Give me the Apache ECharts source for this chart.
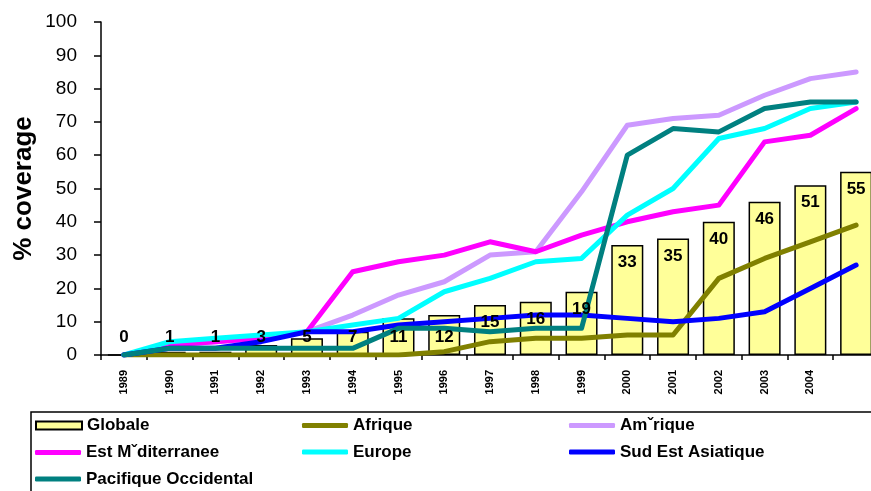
<!DOCTYPE html>
<html>
<head>
<meta charset="utf-8">
<script src="https://cdn.jsdelivr.net/npm/echarts@6/dist/echarts.min.js"></script>
<style>
  html, body { margin: 0; padding: 0; background: #fff; }
  #chart { width: 871px; height: 491px; }
</style>
</head>
<body>
<div id="chart"></div>
<script>
// données
var years = ['1989', '1990', '1991', '1992', '1993', '1994', '1995', '1996', '1997',
  '1998', '1999', '2000', '2001', '2002', '2003', '2004', ''];
var globale = [0, 1, 1, 3, 5, 7, 11, 12, 15, 16, 19, 33, 35, 40, 46, 51, 55];
var afrique = [0, 0, 0, 0, 0, 0, 0, 1, 4, 5, 5, 6, 6, 23, 29, 34, 39];
var amerique = [0, 3, 4, 5, 7, 12, 18, 22, 30, 31, 49, 69, 71, 72, 78, 83, 85];
var estMed = [0, 3, 4, 5, 7, 25, 28, 30, 34, 31, 36, 40, 43, 45, 64, 66, 74];
var europe = [0, 4, 5, 6, 7, 9, 11, 19, 23, 28, 29, 42, 50, 65, 68, 74, 76];
var sudEst = [0, 2, 2, 4, 7, 7, 9, 10, 11, 12, 12, 11, 10, 11, 13, 20, 27];
var pacifique = [0, 2, 2, 2, 2, 2, 8, 8, 7, 8, 8, 60, 68, 67, 74, 76, 76];
var yTicks = [0, 10, 20, 30, 40, 50, 60, 70, 80, 90, 100];

var myChart = echarts.init(document.getElementById('chart'));

function lineSerie(name, data, color) {
  return {
    name: name,
    type: 'line',
    data: data,
    symbol: 'none',
    color: color,
    z: 3,
    lineStyle: { width: 5, color: color, cap: 'round', join: 'round' }
  };
}

var font = 'Liberation Sans, Arial, sans-serif';
var legendText = { fontFamily: font, fontWeight: 'bold', fontSize: 17, color: '#000' };

function legendCol(left, top, names, icon, h) {
  return {
    left: left, top: top, orient: 'vertical', padding: 0,
    itemWidth: 46, itemHeight: h, itemGap: 9.5,
    textStyle: legendText,
    data: names.map(function (n) { return { name: n, icon: icon }; })
  };
}

// valeurs des barres, étiquettes au-dessus des courbes
function barData() {
  return globale.map(function (v) {
    return {
      value: v,
      label: v < 13 ? { position: 'insideBottom', distance: 9 } : { position: 'insideTop', distance: 9 }
    };
  });
}

var option = {
  animation: false,
  grid: { left: 101, right: -8, top: 22, bottom: 136, outerBoundsMode: 'none', containLabel: false },
  graphic: [{
    type: 'rect',
    shape: { x: 31, y: 412, width: 900, height: 100 },
    style: { fill: 'none', stroke: '#000', lineWidth: 1.5 }
  }],
  legend: [
    legendCol(35, 417, ['Globale'], 'rect', 8),
    legendCol(35, 444, ['Est Mˇditerranee', 'Pacifique Occidental'], 'roundRect', 5),
    legendCol(302, 417, ['Afrique', 'Europe'], 'roundRect', 5),
    legendCol(569, 417, ['Amˇrique', 'Sud Est Asiatique'], 'roundRect', 5)
  ],
  xAxis: {
    type: 'category',
    data: years,
    boundaryGap: true,
    axisLine: { lineStyle: { color: '#000', width: 1.5 } },
    axisTick: { show: true, interval: 0, length: 5, lineStyle: { color: '#000', width: 1.5 } },
    axisLabel: {
      interval: 0, rotate: 90, margin: 15,
      fontFamily: font, fontWeight: 'bold', fontSize: 11, color: '#000'
    }
  },
  yAxis: {
    type: 'value',
    min: yTicks[0],
    max: yTicks[yTicks.length - 1],
    interval: 10,
    name: '% coverage',
    nameLocation: 'middle',
    nameGap: 64,
    nameRotate: 90,
    nameMoveOverlap: false,
    nameTextStyle: { fontFamily: font, fontWeight: 'bold', fontSize: 26, color: '#000' },
    axisLine: { show: true, lineStyle: { color: '#000', width: 1.5 } },
    axisTick: { show: true, length: 7, lineStyle: { color: '#000', width: 1.5 } },
    splitLine: { show: false },
    axisLabel: {
      margin: 24,
      fontFamily: 'Liberation Sans Narrow, Arial Narrow, Liberation Sans, sans-serif', fontSize: 19, color: '#000'
    }
  },
  series: [
    {
      name: 'Globale',
      type: 'bar',
      z: 2,
      barCategoryGap: '30%',
      data: globale,
      itemStyle: { color: '#ffff99', borderColor: '#000', borderWidth: 1.5 }
    },
    lineSerie('Afrique', afrique, '#808000'),
    lineSerie('Amˇrique', amerique, '#cc99ff'),
    lineSerie('Est Mˇditerranee', estMed, '#ff00ff'),
    lineSerie('Europe', europe, '#00ffff'),
    lineSerie('Sud Est Asiatique', sudEst, '#0000ff'),
    lineSerie('Pacifique Occidental', pacifique, '#008080'),
    {
      name: 'Globale (valeurs)',
      type: 'bar',
      z: 10,
      barGap: '-100%',
      barCategoryGap: '30%',
      silent: true,
      data: barData(),
      itemStyle: { color: 'rgba(0,0,0,0)', borderWidth: 0 },
      label: {
        show: true,
        fontFamily: font, fontWeight: 'bold', fontSize: 17, color: '#000'
      }
    }
  ]
};

myChart.setOption(option);
</script>
</body>
</html>
